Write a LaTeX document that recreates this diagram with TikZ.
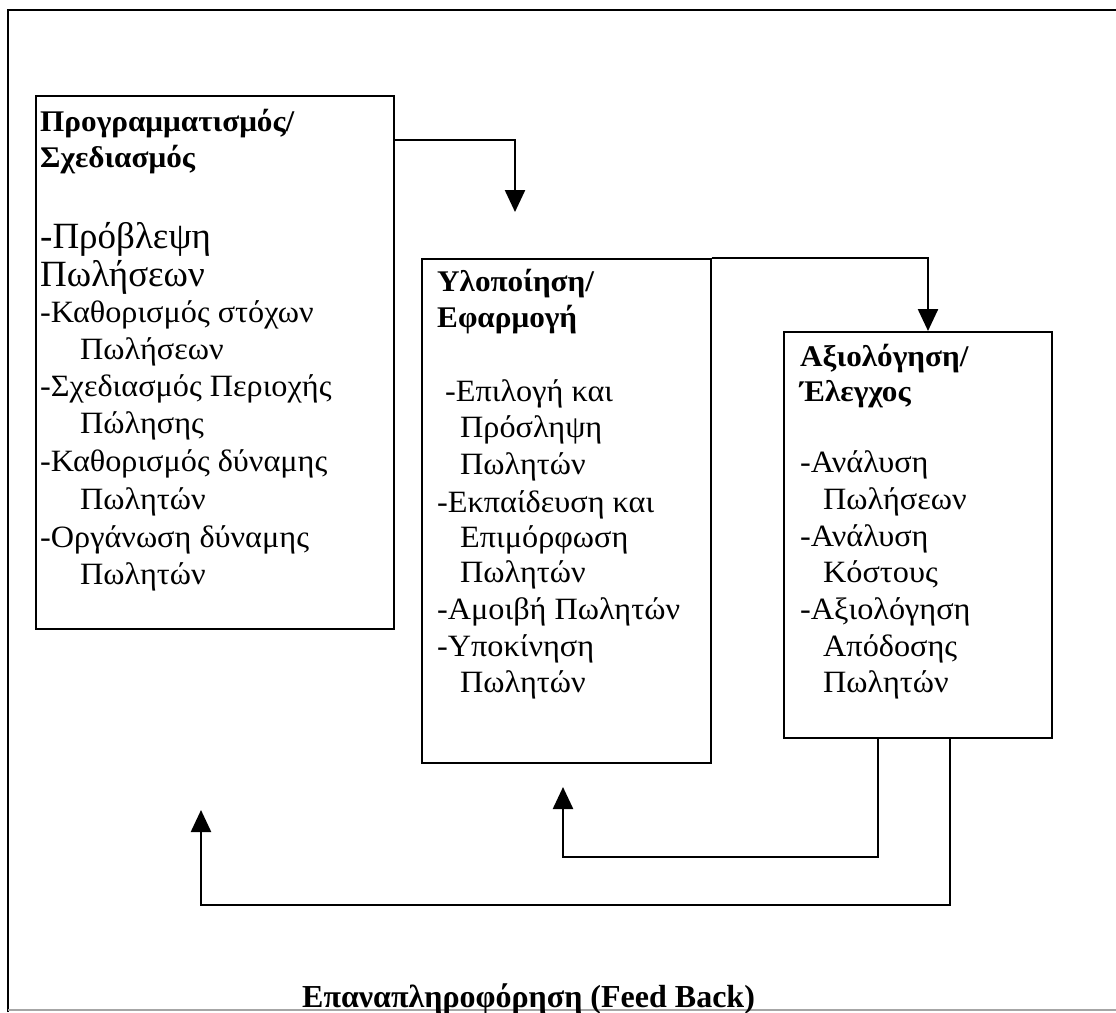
\documentclass[tikz,border=0pt]{standalone}
\usepackage{fontspec}
\setmainfont[FakeStretch=1.04]{Liberation Serif}
\newfontfamily\plainfont{Liberation Serif}
\usetikzlibrary{arrows.meta}
\begin{document}
\begin{tikzpicture}[x=1pt,y=-1pt,
  stagebox/.style={draw, line width=1.6pt, inner sep=0pt, anchor=north west},
  txt/.style={anchor=base west, inner sep=0pt, font=\fontsize{31}{36}\selectfont},
  head/.style={anchor=base west, inner sep=0pt, font=\bfseries\fontsize{30}{36}\selectfont},
  bigtxt/.style={anchor=base west, inner sep=0pt, font=\plainfont\fontsize{37}{42}\selectfont},
  title/.style={anchor=base west, inner sep=0pt, font=\plainfont\bfseries\fontsize{32}{38}\selectfont},
  link/.style={line width=2.4pt, -{Triangle[length=22pt,width=20pt]}}]
  \useasboundingbox (0,0) rectangle (1116,1012);
  % outer frame
  \draw[line width=2.4pt] (8,1012) -- (8,10) -- (1116,10);
  \draw[line width=1.2pt, black!35] (8,1010) -- (1116,1010);

  % stage boxes
  \node[stagebox, minimum width=358pt, minimum height=533pt] (b1) at (35,95) {};
  \node[stagebox, minimum width=289pt, minimum height=504pt] (b2) at (421,258) {};
  \node[stagebox, minimum width=268pt, minimum height=406pt] (b3) at (783,331) {};

  % planning
  \node[head] (h11) at (40,131.6) {Προγραμματισμός/};
  \node[head] (h12) at (40,167.6) {Σχεδιασμός};
  \node[bigtxt] (p11) at (40,248) {-Πρόβλεψη};
  \node[bigtxt] (p12) at (40,286) {Πωλήσεων};
  \node[txt] (p13) at (40,322.6) {-Καθορισμός στόχων};
  \node[txt] (p14) at (80,359.6) {Πωλήσεων};
  \node[txt] (p15) at (40,396.6) {-Σχεδιασμός Περιοχής};
  \node[txt] (p16) at (80,433.6) {Πώλησης};
  \node[txt] (p17) at (40,471.6) {-Καθορισμός δύναμης};
  \node[txt] (p18) at (80,509.6) {Πωλητών};
  \node[txt] (p19) at (40,547.6) {-Οργάνωση δύναμης};
  \node[txt] (p110) at (80,584.6) {Πωλητών};

  % implementation
  \node[head] (h21) at (437,291.6) {Υλοποίηση/};
  \node[head] (h22) at (437,327.6) {Εφαρμογή};
  \node[txt] (p21) at (445,401.6) {-Επιλογή και};
  \node[txt] (p22) at (460,437.6) {Πρόσληψη};
  \node[txt] (p23) at (460,474.6) {Πωλητών};
  \node[txt] (p24) at (437,512.6) {-Εκπαίδευση και};
  \node[txt] (p25) at (460,547.6) {Επιμόρφωση};
  \node[txt] (p26) at (460,582.6) {Πωλητών};
  \node[txt] (p27) at (437,619.6) {-Αμοιβή Πωλητών};
  \node[txt] (p28) at (437,656.6) {-Υποκίνηση};
  \node[txt] (p29) at (460,692.6) {Πωλητών};

  % evaluation
  \node[head] (h31) at (800,366.6) {Αξιολόγηση/};
  \node[head] (h32) at (800,401.6) {Έλεγχος};
  \node[txt] (p31) at (800,472.6) {-Ανάλυση};
  \node[txt] (p32) at (823,509.6) {Πωλήσεων};
  \node[txt] (p33) at (800,546.6) {-Ανάλυση};
  \node[txt] (p34) at (823,582.6) {Κόστους};
  \node[txt] (p35) at (800,619.6) {-Αξιολόγηση};
  \node[txt] (p36) at (823,656.6) {Απόδοσης};
  \node[txt] (p37) at (823,692.6) {Πωλητών};

  % routing points
  \coordinate (k1) at (515,140);
  \coordinate (t2) at (515,212);
  \coordinate (k2) at (928,0);
  \coordinate (f1) at (878,857);
  \coordinate (a2) at (563,787);
  \coordinate (f2) at (950,905);
  \coordinate (a1) at (201,810);

  % forward flow
  \draw[link] (b1.east |- k1) -| (t2);
  \draw[link] (b2.north east) -| (b3.north -| k2);

  % feedback loops
  \draw[link] (b3.south -| f1) -- (f1) -| (a2);
  \draw[link] (b3.south -| f2) -- (f2) -| (a1);

  \node[title] (fb) at (302,1007) {Επαναπληροφόρηση (Feed Back)};
\end{tikzpicture}
\end{document}
